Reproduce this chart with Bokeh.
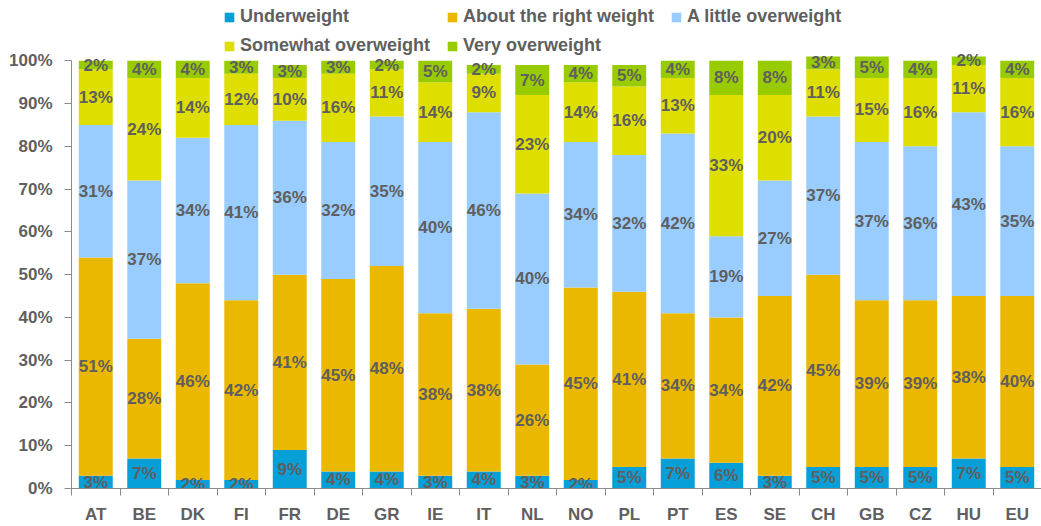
from bokeh.plotting import figure
from bokeh.models import (ColumnDataSource, FactorRange, Range1d, LinearAxis,
                          FixedTicker, Legend, LegendItem)
from bokeh.core.properties import value
from bokeh.embed import file_html
from bokeh.resources import INLINE

countries = ["AT", "BE", "DK", "FI", "FR", "DE", "GR", "IE", "IT", "NL",
             "NO", "PL", "PT", "ES", "SE", "CH", "GB", "CZ", "HU", "EU"]
series_names = ["Underweight", "About the right weight", "A little overweight",
                "Somewhat overweight", "Very overweight"]
underweight = [3, 7, 2, 2, 9, 4, 4, 3, 4, 3, 2, 5, 7, 6, 3, 5, 5, 5, 7, 5]
right_weight = [51, 28, 46, 42, 41, 45, 48, 38, 38, 26, 45, 41, 34, 34, 42, 45, 39, 39, 38, 40]
little_over = [31, 37, 34, 41, 36, 32, 35, 40, 46, 40, 34, 32, 42, 19, 27, 37, 37, 36, 43, 35]
somewhat_over = [13, 24, 14, 12, 10, 16, 11, 14, 9, 23, 14, 16, 13, 33, 20, 11, 15, 16, 11, 16]
very_over = [2, 4, 4, 3, 3, 3, 2, 5, 2, 7, 4, 5, 4, 8, 8, 3, 5, 4, 2, 4]
colors = ["#069fd8", "#ebb800", "#99ccff", "#dede00", "#99cc00"]
y_ticks = [0, 10, 20, 30, 40, 50, 60, 70, 80, 90, 100]
y_tick_labels = ["0%", "10%", "20%", "30%", "40%", "50%", "60%", "70%", "80%", "90%", "100%"]

keys = ["underweight", "right_weight", "little_over", "somewhat_over", "very_over"]
data = {"country": countries, "underweight": underweight, "right_weight": right_weight,
        "little_over": little_over, "somewhat_over": somewhat_over, "very_over": very_over}
source = ColumnDataSource(data)

FONT = "Liberation Sans"
TEXT = "#5f5f5f"
AXIS = "#8c8c8c"

# frame runs to the top of the figure so the legend (inside the frame) is not clipped;
# the range end leaves head-room for the legend above the 100% mark
p = figure(x_range=FactorRange(*countries), y_range=Range1d(0, 114.1),
           width=1041, height=526, output_backend="svg", toolbar_location=None,
           x_axis_location=None, min_border_left=71, min_border_right=0,
           min_border_top=0, min_border_bottom=36)
p.outline_line_color = None
p.grid.visible = False
p.background_fill_color = "white"

renderers = p.vbar_stack(keys, x="country", width=0.7, fill_color=colors,
                         line_color=None, source=source)

# labels centered in each segment
lx, ly, lt = [], [], []
bottom = [0] * len(countries)
for k in keys:
    vals = data[k]
    for i, (c, v) in enumerate(zip(countries, vals)):
        lx.append(c)
        ly.append(bottom[i] + v / 2)
        lt.append(f"{v}%")
        bottom[i] += v
lsrc = ColumnDataSource(dict(x=lx, y=ly, t=lt))
p.text(x="x", y="y", text="t", source=lsrc, text_align="center",
       text_baseline="middle", text_font=value(FONT), text_font_style="bold",
       text_font_size="17px", text_color=TEXT)

# y axis
p.yaxis.ticker = FixedTicker(ticks=y_ticks)
p.yaxis.bounds = (0, 100)
p.yaxis.major_label_overrides = {t: l for t, l in zip(y_ticks, y_tick_labels)}
p.yaxis.axis_line_color = AXIS
p.yaxis.major_tick_line_color = AXIS
p.yaxis.minor_tick_line_color = None
p.yaxis.major_tick_out = 7
p.yaxis.major_tick_in = 0
p.yaxis.major_label_standoff = 12
p.yaxis.major_label_text_font = FONT
p.yaxis.major_label_text_font_style = "bold"
p.yaxis.major_label_text_font_size = "17px"
p.yaxis.major_label_text_color = TEXT

# x axis on the factor range's synthetic coordinates:
# labels at category centres (major), tick marks at category boundaries (minor)
n = len(countries)
centres = [i + 0.5 for i in range(n)]
bounds = list(range(n + 1))
x_axis = LinearAxis(ticker=FixedTicker(ticks=centres, minor_ticks=bounds),
                    major_label_overrides={c: name for c, name in zip(centres, countries)},
                    axis_line_color=AXIS, major_tick_line_color=None,
                    major_tick_out=0, major_tick_in=0,
                    minor_tick_line_color=AXIS, minor_tick_out=7, minor_tick_in=0,
                    major_label_standoff=9,
                    major_label_text_font=FONT, major_label_text_font_style="bold",
                    major_label_text_font_size="17px", major_label_text_color=TEXT)
p.add_layout(x_axis, "below")

# legends (two rows) placed inside the frame's head-room
items = [LegendItem(label=nm, renderers=[r]) for nm, r in zip(series_names, renderers)]
for its, loc in ((items[:3], (152, 461)), (items[3:], (152, 432))):
    leg = Legend(items=its, location=loc, orientation="horizontal")
    leg.padding = 0
    leg.margin = 0
    leg.spacing = 16
    leg.border_line_color = None
    leg.background_fill_alpha = 0
    leg.glyph_width = 12
    leg.glyph_height = 12
    leg.label_standoff = 5
    leg.label_width = 190
    leg.label_height = 20
    leg.label_text_font = FONT
    leg.label_text_font_style = "bold"
    leg.label_text_font_size = "18px"
    leg.label_text_color = TEXT
    p.add_layout(leg, "center")

open("out.html", "w").write(file_html(p, INLINE))
